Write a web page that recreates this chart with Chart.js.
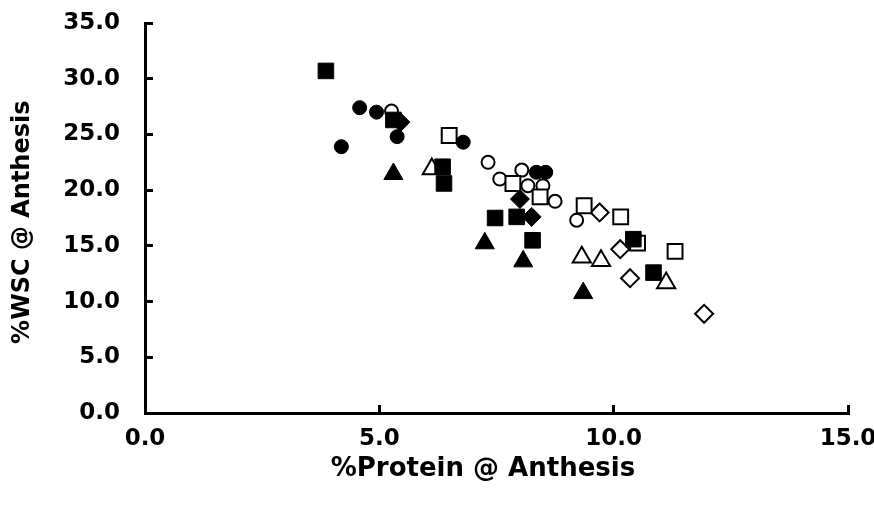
<!DOCTYPE html>
<html>
<head>
<meta charset="utf-8">
<script src="https://cdn.jsdelivr.net/npm/chart.js@4.4.1/dist/chart.umd.min.js"></script>
<style>
  html, body { margin: 0; padding: 0; background: #ffffff; }
  #wrap { width: 874px; height: 508px; }
</style>
</head>
<body>
<div id="wrap"><canvas id="c" width="874" height="508"></canvas></div>
<script>
// ---- data ----
const filledSquareX = [3.86, 5.30, 6.35, 6.38, 7.47, 7.93, 8.27, 10.42, 10.85];
const filledSquareY = [30.7, 26.3, 22.1, 20.6, 17.5, 17.6, 15.5, 15.6, 12.6];

const openSquareX = [6.49, 7.85, 8.43, 9.37, 10.15, 10.51, 11.31];
const openSquareY = [24.9, 20.6, 19.4, 18.6, 17.6, 15.25, 14.5];

const filledTriangleX = [5.30, 7.25, 8.07, 9.35];
const filledTriangleY = [21.45, 15.23, 13.61, 10.76];

const openTriangleX = [6.12, 9.32, 9.73, 11.12];
const openTriangleY = [21.9, 13.97, 13.67, 11.66];

const filledDiamondX = [5.45, 8.0, 8.25];
const filledDiamondY = [26.1, 19.2, 17.6];

const openDiamondX = [9.70, 10.14, 10.35, 11.93];
const openDiamondY = [18.0, 14.7, 12.1, 8.9];

const filledCircleX = [4.19, 4.58, 4.94, 5.38, 6.79, 8.35, 8.55];
const filledCircleY = [23.9, 27.4, 27.0, 24.8, 24.3, 21.6, 21.6];

const openCircleX = [5.26, 7.32, 7.57, 8.04, 8.17, 8.49, 8.75, 9.21];
const openCircleY = [27.1, 22.5, 21.0, 21.8, 20.4, 20.4, 19.0, 17.3];

const xTicks = [0, 5, 10, 15];
const yTicks = [0, 5, 10, 15, 20, 25, 30, 35];
const xTitle = '%Protein @ Anthesis';
const yTitle = '%WSC @ Anthesis';

function pts(xs, ys) { return xs.map((x, i) => ({ x: x, y: ys[i] })); }

function ds(label, xs, ys, style, radius, filled) {
  return {
    label: label,
    data: pts(xs, ys),
    pointStyle: style,
    pointRadius: radius,
    pointHoverRadius: radius,
    pointBackgroundColor: filled ? '#000000' : '#ffffff',
    pointBorderColor: '#000000',
    pointBorderWidth: filled ? 1 : 2,
    showLine: false
  };
}

const datasets = [
  ds('filled squares', filledSquareX, filledSquareY, 'rect', 11, true),
  ds('filled diamonds', filledDiamondX, filledDiamondY, 'rectRot', 9.5, true),
  ds('filled circles', filledCircleX, filledCircleY, 'circle', 7, true),
  ds('filled triangles', filledTriangleX, filledTriangleY, 'triangle', 11, true),
  ds('open squares', openSquareX, openSquareY, 'rect', 10.5, false),
  ds('open triangles', openTriangleX, openTriangleY, 'triangle', 10.5, false),
  ds('open diamonds', openDiamondX, openDiamondY, 'rectRot', 9, false),
  ds('open circles', openCircleX, openCircleY, 'circle', 6.5, false)
];

const tickFont = { family: 'DejaVu Sans', weight: 'bold', size: 23 };

new Chart(document.getElementById('c'), {
  type: 'scatter',
  data: { datasets: datasets },
  options: {
    responsive: false,
    animation: false,
    devicePixelRatio: 1,
    layout: { padding: { top: 23, right: 26, bottom: 0, left: 0 } },
    plugins: { legend: { display: false }, tooltip: { enabled: false } },
    scales: {
      x: {
        type: 'linear',
        min: 0, max: 15,
        afterBuildTicks: s => { s.ticks = xTicks.map(v => ({ value: v })); },
        afterFit: s => { s.height = 95; s.paddingLeft = 0; s.paddingRight = 0; },
        border: { display: true, color: '#000000', width: 3 },
        grid: { drawOnChartArea: false, drawTicks: true, tickLength: -8, color: '#000000', lineWidth: 3 },
        ticks: { color: '#000000', font: tickFont, padding: 20, maxRotation: 0, autoSkip: false,
                 callback: v => Number(v).toFixed(1) },
        title: { display: true, text: xTitle + '   ', color: '#000000',
                 font: { family: 'DejaVu Sans', weight: 'bold', size: 26 },
                 padding: { top: 0, bottom: 23 } }
      },
      y: {
        type: 'linear',
        min: 0, max: 35,
        afterBuildTicks: s => { s.ticks = yTicks.map(v => ({ value: v })); },
        afterFit: s => { s.width = 145; s.paddingTop = 0; s.paddingBottom = 0; },
        border: { display: true, color: '#000000', width: 3 },
        grid: { drawOnChartArea: false, drawTicks: true, tickLength: -8, color: '#000000', lineWidth: 3 },
        ticks: { color: '#000000', font: tickFont, padding: 33, autoSkip: false,
                 callback: v => Number(v).toFixed(1) },
        title: { display: true, text: yTitle + ' ', color: '#000000',
                 font: { family: 'DejaVu Sans', weight: 'bold', size: 24 },
                 padding: { top: 8, bottom: 0 } }
      }
    }
  }
});
</script>
</body>
</html>
